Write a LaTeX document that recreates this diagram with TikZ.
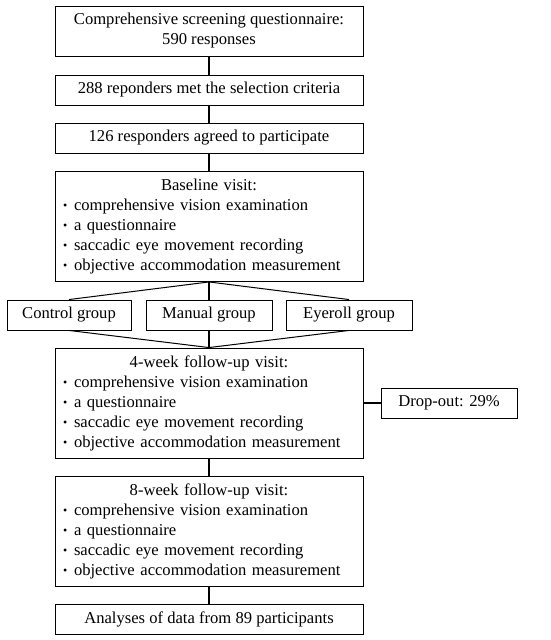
\documentclass[tikz,border=0pt]{standalone}
\usepackage{fontspec}
\setmainfont{Liberation Serif}
\newcommand{\bul}{\makebox[11pt][l]{\raisebox{0.5pt}{\fontsize{12}{12}\selectfont\textbullet}}}
\begin{document}
\begin{tikzpicture}[x=1pt,y=-1pt,
  box/.style={draw, line width=0.9pt, inner sep=0pt, font=\fontsize{16.6}{20}\selectfont},
  listbox/.style={box, minimum width=308pt, minimum height=110pt, text width=292pt, align=left},
  conn/.style={line width=1.5pt},
  thin/.style={line width=1pt}]
\useasboundingbox (0,0) rectangle (550,640);
\node[box, minimum width=308pt, minimum height=50pt, align=center] (b1) at (209,31) {Comprehensive screening questionnaire:\\590 responses};
\node[box, minimum width=308pt, minimum height=30pt] (b2) at (209,90) {288 reponders met the selection criteria};
\node[box, minimum width=308pt, minimum height=30pt] (b3) at (209,138) {126 responders agreed to participate};
\node[listbox] (base) at (209,226.5) {\makebox[292pt][c]{Baseline visit:}\\\bul comprehensive vision examination\\\bul a questionnaire\\\bul saccadic eye movement recording\\\bul objective accommodation measurement};
\node[box, minimum width=124pt, minimum height=30pt] (ctrl) at (69,315) {Control group};
\node[box, minimum width=126pt, minimum height=30pt] (man) at (209,315) {Manual group};
\node[box, minimum width=126pt, minimum height=30pt] (eye) at (349,315) {Eyeroll group};
\node[listbox] (w4) at (209,403) {\makebox[292pt][c]{4-week follow-up visit:}\\\bul comprehensive vision examination\\\bul a questionnaire\\\bul saccadic eye movement recording\\\bul objective accommodation measurement};
\node[box, minimum width=136pt, minimum height=30pt] (drop) at (449,403) {Drop-out: 29\%};
\node[listbox] (w8) at (209,531) {\makebox[292pt][c]{8-week follow-up visit:}\\\bul comprehensive vision examination\\\bul a questionnaire\\\bul saccadic eye movement recording\\\bul objective accommodation measurement};
\node[box, minimum width=308pt, minimum height=30pt] (fin) at (209,619) {Analyses of data from 89 participants};
\draw[conn] (b1) -- (b2);
\draw[conn] (b2) -- (b3);
\draw[conn] (b3) -- (base);
\draw[thin] (base.south) -- (ctrl.north);
\draw[conn] (base.south) -- (man.north);
\draw[thin] (base.south) -- (eye.north);
\draw[thin] (ctrl.south) -- (w4.north);
\draw[conn] (man.south) -- (w4.north);
\draw[thin] (eye.south) -- (w4.north);
\draw[conn] (w4.east) -- (drop.west);
\draw[conn] (w4) -- (w8);
\draw[conn] (w8) -- (fin);
\end{tikzpicture}
\end{document}
